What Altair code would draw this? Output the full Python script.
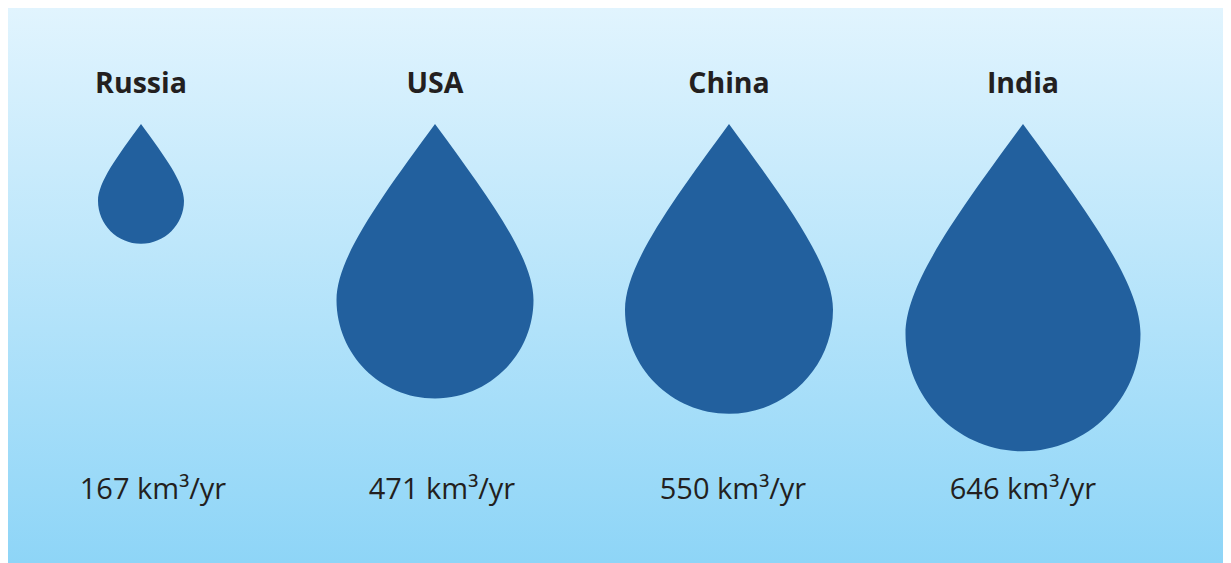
import altair as alt
import pandas as pd

countries = ["Russia", "USA", "China", "India"]
volumes = [167, 471, 550, 646]

DROP = ("M0,0 C0.55,0.75 1,1.36 1,1.786 "
        "C1,2.338 0.552,2.786 0,2.786 "
        "C-0.552,2.786 -1,2.338 -1,1.786 "
        "C-1,1.36 -0.55,0.75 0,0 Z")

W, H = 1215, 555
TEXT = "#231f20"
FONT = "Open Sans"

df = pd.DataFrame({"country": countries, "volume": volumes})
df["label"] = df["volume"].astype(str) + " km³/yr"

x = alt.X("country:N", axis=None, sort=countries,
          scale=alt.Scale(domain=countries, range=[133, 1015], padding=0))

background = alt.Chart(df).mark_rect(
    color=alt.Gradient(
        gradient="linear", x1=0, y1=0, x2=0, y2=1,
        stops=[alt.GradientStop(color="#e1f4fe", offset=0),
               alt.GradientStop(color="#8ed5f7", offset=1)],
    )
).encode(x=alt.value(0), x2=alt.value(W), y=alt.value(0), y2=alt.value(H))

drops = alt.Chart(df).mark_point(
    shape=DROP, filled=True, fill="#22609e", stroke=None, opacity=1
).encode(
    x=x,
    y=alt.value(116),
    size=alt.Size("volume:Q", legend=None,
                  scale=alt.Scale(domain=volumes, range=[7396, 38809, 43264, 55225])),
)

names = alt.Chart(df).mark_text(
    font=FONT, fontSize=28.5, fontWeight=700, color=TEXT, baseline="alphabetic"
).encode(x=x, y=alt.value(85), text="country:N")

layers = [background, drops, names]
for country, dx in zip(countries, [12, 7, 4, 0]):
    layers.append(
        alt.Chart(df).transform_filter(alt.datum.country == country).mark_text(
            font=FONT, fontSize=29, color=TEXT, baseline="alphabetic", dx=dx
        ).encode(x=x, y=alt.value(491), text="label:N")
    )

chart = alt.layer(*layers).properties(
    width=W, height=H, padding=0, autosize=alt.AutoSizeParams(type="none")
).configure_view(stroke=None)

chart.save("out.html", embed_options={"renderer": "svg", "actions": False})
